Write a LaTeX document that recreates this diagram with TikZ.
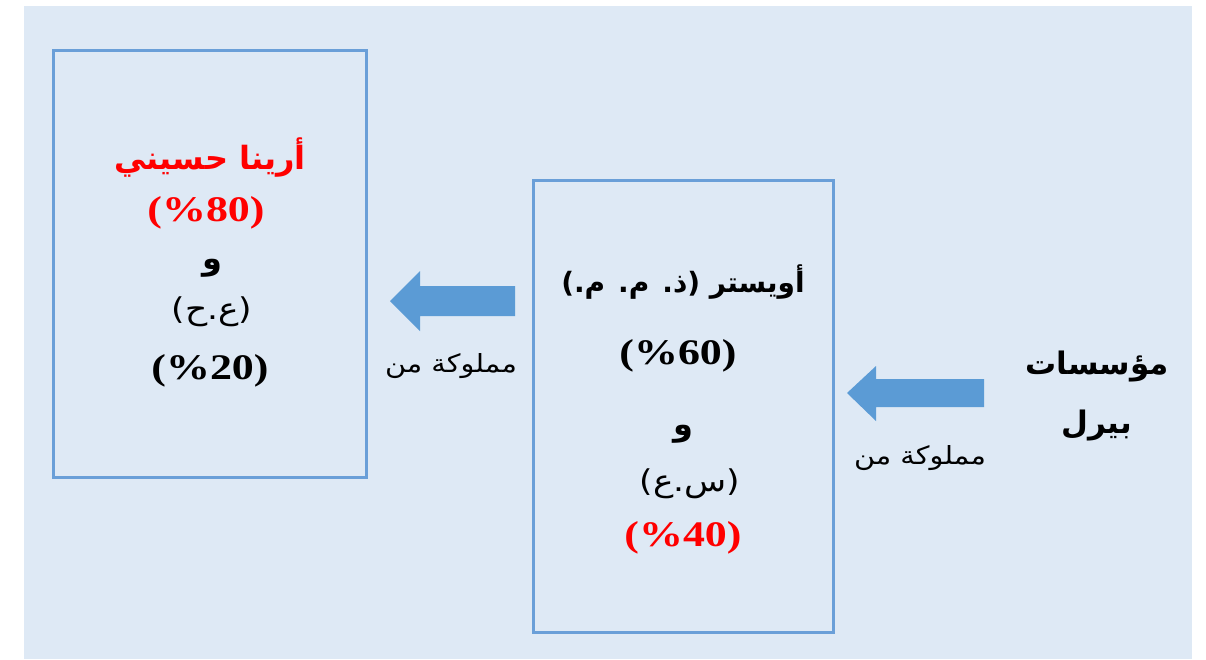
\documentclass[tikz,border=0pt]{standalone}
\usepackage{fontspec}
\setmainfont{Liberation Serif}
\newfontfamily\latinfont{Liberation Serif}
\newfontfamily\arabicfont[Script=Arabic]{DejaVu Sans}
\TeXXeTstate=1
\usetikzlibrary{calc}
\definecolor{bgblue}{HTML}{DEE9F5}
\definecolor{boxline}{HTML}{6A9FD8}
\definecolor{arrowblue}{HTML}{5B9BD5}
\definecolor{txtred}{HTML}{FF0000}
\newcommand{\pct}[1]{\scalebox{1.22}[1]{\latinfont\bfseries\fontsize{36}{40}\selectfont #1}}
\newcommand{\wide}[1]{\scalebox{1.15}[1]{#1}}
\tikzset{
  box/.style={draw=boxline, line width=3pt, fill=bgblue, inner sep=0pt},
  artxt/.style={inner sep=0pt, font=\arabicfont\bfseries\fontsize{31}{36}\selectfont},
  arbig/.style={inner sep=0pt, font=\arabicfont\bfseries\fontsize{32}{38}\selectfont},
  artop/.style={inner sep=0pt, font=\arabicfont\bfseries\fontsize{28}{34}\selectfont},
  arreg/.style={inner sep=0pt, font=\arabicfont\fontsize{30}{36}\selectfont},
  numtxt/.style={inner sep=0pt},
  lbl/.style={inner sep=0pt, font=\arabicfont\fontsize{25}{30}\selectfont},
  blockarrow/.style={fill=arrowblue},
}
\begin{document}
\begin{tikzpicture}[x=1pt,y=-1pt]
\useasboundingbox (0,0) rectangle (1206,659);
\fill[white] (0,0) rectangle (1206,659);
\fill[bgblue] (24,6) rectangle (1192,659);
% boxes
\node[box, minimum width=313pt, minimum height=427pt] (b1) at (209.5,263.5) {};
\node[box, minimum width=300pt, minimum height=452pt] (b2) at (683,406) {};
% box 1 text
\node[arbig, text=txtred] (t11) at (210,158) {\beginR أرينا حسيني\endR};
\node[numtxt, text=txtred] (t12) at (206,213) {\pct{(\%80)}};
\node[arbig] (t13) at (212,268) {\beginR و\endR};
\node[arreg] (t14) at (212,312) {\wide{\beginR (ع.ح)\endR}};
\node[numtxt] (t15) at (210,371) {\pct{(\%20)}};
% box 2 text
\node[artop] (t21) at (683,282) {\beginR أويستر (ذ. م. م.)\endR};
\node[numtxt] (t22) at (678,356) {\pct{(\%60)}};
\node[arbig] (t23) at (683,434) {\beginR و\endR};
\node[arreg] (t24) at (690,484) {\wide{\beginR (س.ع)\endR}};
\node[numtxt, text=txtred] (t25) at (683,538) {\pct{(\%40)}};
% right text
\node[artxt] (r1) at (1097,366) {\beginR مؤسسات\endR};
\node[artxt] (r2) at (1097,425) {\beginR بيرل\endR};
% arrows
\coordinate (a1tip) at (390,301);
\coordinate (a1end) at (515,301);
\fill[blockarrow] ($(a1end)+(0,-15)$) -- (420,286) -- (420,271) -- (a1tip) -- (420,331) -- (420,316) -- ($(a1end)+(0,15)$) -- cycle;
\coordinate (a2tip) at (847,393);
\coordinate (a2end) at (984,393);
\fill[blockarrow] ($(a2end)+(0,-14)$) -- (876,379) -- (876,366) -- (a2tip) -- (876,421) -- (876,407) -- ($(a2end)+(0,14)$) -- cycle;
% labels
\node[lbl] (l1) at (451,366) {\wide{\beginR مملوكة من\endR}};
\node[lbl] (l2) at (920,458) {\wide{\beginR مملوكة من\endR}};
\end{tikzpicture}
\end{document}
